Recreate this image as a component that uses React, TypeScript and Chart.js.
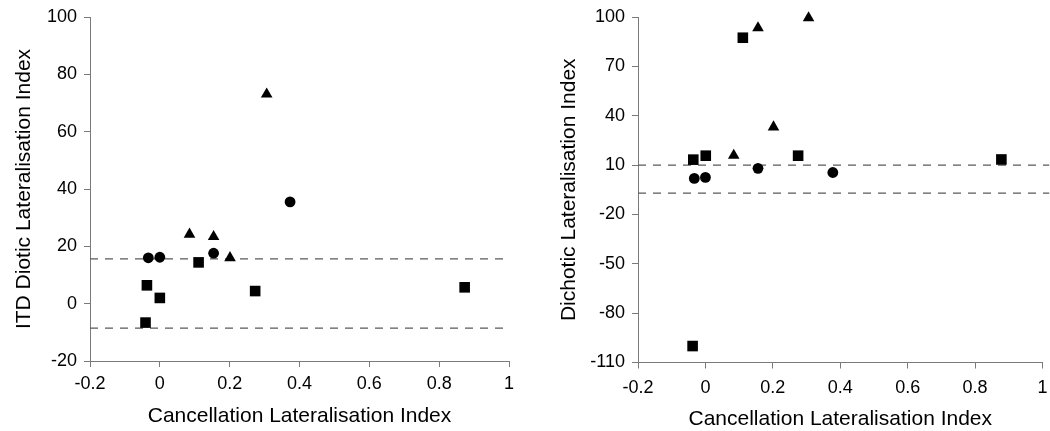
import React, { useEffect, useRef } from 'react';
import { Chart, registerables } from 'chart.js';

Chart.register(...registerables);

// ---------- shared axis data ----------
const xTickValues = [-0.2, 0, 0.2, 0.4, 0.6, 0.8, 1];
const xTickLabels = ['-0.2', '0', '0.2', '0.4', '0.6', '0.8', '1'];
const xTitle = 'Cancellation Lateralisation Index';

// ---------- left panel: ITD diotic ----------
const itdTitle = 'ITD Diotic Lateralisation Index';
const itdYTicks = [-20, 0, 20, 40, 60, 80, 100];
const itdSquareX = [-0.037, 0.0, -0.041, 0.111, 0.273, 0.873];
const itdSquareY = [6.4, 2.0, -6.6, 14.4, 4.4, 5.7];
const itdCircleX = [-0.033, 0.0, 0.154, 0.373];
const itdCircleY = [16.0, 16.2, 17.6, 35.5];
const itdTriangleX = [0.306, 0.085, 0.154, 0.201];
const itdTriangleY = [73.1, 24.2, 23.4, 16.0];
const itdLimits = [15.6, -8.5];

// ---------- right panel: dichotic ----------
const dichTitle = 'Dichotic Lateralisation Index';
const dichYTicks = [-110, -80, -50, -20, 10, 40, 70, 100];
const dichSquareX = [0.111, -0.036, 0.001, 0.275, 0.878, -0.038];
const dichSquareY = [87.4, 13.3, 15.7, 15.7, 13.4, -100];
const dichCircleX = [-0.033, 0.0, 0.156, 0.378];
const dichCircleY = [1.9, 2.5, 8.0, 5.5];
const dichTriangleX = [0.306, 0.156, 0.202, 0.084];
const dichTriangleY = [99.4, 93.3, 33.1, 15.9];
const dichLimits = [10, -7];

const FONT = "'Liberation Sans', Arial, Helvetica, sans-serif";
const AXIS_GREY = '#7a7a7a';

const toPts = (xs: number[], ys: number[]) => xs.map((x, i) => ({ x, y: ys[i] }));

type PanelCfg = {
  yTitle: string;
  yTicks: number[];
  sqX: number[]; sqY: number[];
  ciX: number[]; ciY: number[];
  trX: number[]; trY: number[];
  limits: number[];
  lineEnd: number;
  padLeft: number; padRight: number;
  yWidth: number; xHeight: number;
  xTickPad: number; xTitlePad: number;
};

function buildChart(canvas: HTMLCanvasElement, c: PanelCfg) {
  const marker = (pts: any, style: string, r: number) => ({
    data: pts,
    pointStyle: style,
    pointRadius: r,
    pointHoverRadius: r,
    backgroundColor: '#000',
    borderColor: '#000',
    borderWidth: 0,
    showLine: false,
    clip: false,
    order: 0,
  });
  const limitLine = (v: number) => ({
    data: [{ x: xTickValues[0], y: v }, { x: c.lineEnd, y: v }],
    showLine: true,
    borderColor: '#5a5a5a',
    borderWidth: 1.3,
    borderDash: [8, 7],
    pointRadius: 0,
    fill: false,
    clip: false,
    order: 1,
  });
  const yMin = c.yTicks[0];
  const yMax = c.yTicks[c.yTicks.length - 1];
  return new Chart(canvas, {
    type: 'scatter',
    data: {
      datasets: [
        marker(toPts(c.sqX, c.sqY), 'rect', 7.5),
        marker(toPts(c.ciX, c.ciY), 'circle', 5.4),
        marker(toPts(c.trX, c.trY), 'triangle', 6.7),
        ...c.limits.map(limitLine),
      ] as any,
    },
    options: {
      responsive: false,
      animation: false,
      events: [],
      layout: { padding: { top: 17, bottom: 0, left: c.padLeft, right: c.padRight } },
      plugins: { legend: { display: false }, tooltip: { enabled: false } },
      scales: {
        x: {
          type: 'linear',
          min: xTickValues[0],
          max: xTickValues[xTickValues.length - 1],
          afterBuildTicks: (s: any) => { s.ticks = xTickValues.map((v) => ({ value: v })); },
          afterFit: (s: any) => {
            s.height = c.xHeight;
            s.paddingLeft = 0;
            s.paddingRight = 0;
          },
          grid: { drawOnChartArea: false, tickLength: 6, color: AXIS_GREY },
          border: { display: true, color: AXIS_GREY, width: 1 },
          ticks: {
            padding: c.xTickPad,
            color: '#000',
            maxRotation: 0,
            autoSkip: false,
            font: { family: FONT, size: 18 },
            callback: (_v: any, i: number) => xTickLabels[i],
          },
          title: {
            display: true,
            text: xTitle,
            color: '#000',
            font: { family: FONT, size: 21 },
            padding: { top: 0, bottom: c.xTitlePad },
          },
        },
        y: {
          type: 'linear',
          min: yMin,
          max: yMax,
          afterBuildTicks: (s: any) => { s.ticks = c.yTicks.map((v) => ({ value: v })); },
          afterFit: (s: any) => {
            s.width = c.yWidth;
            s.paddingTop = 0;
            s.paddingBottom = 0;
          },
          grid: { drawOnChartArea: false, tickLength: 6, color: AXIS_GREY },
          border: { display: true, color: AXIS_GREY, width: 1 },
          ticks: {
            padding: 7,
            color: '#000',
            autoSkip: false,
            font: { family: FONT, size: 18 },
            callback: (_v: any, i: number) => String(c.yTicks[i]),
          },
          title: {
            display: true,
            text: c.yTitle,
            color: '#000',
            font: { family: FONT, size: 21 },
            padding: { top: 4, bottom: 0 },
          },
        },
      },
    } as any,
  });
}

function Panel({ cfg, left }: { cfg: PanelCfg; left: number }) {
  const ref = useRef<HTMLCanvasElement>(null);
  useEffect(() => {
    if (!ref.current) return;
    const ch = buildChart(ref.current, cfg);
    return () => ch.destroy();
  }, []);
  return (
    <canvas
      ref={ref}
      width={525}
      height={431}
      style={{ position: 'absolute', left, top: 0, width: 525, height: 431 }}
    />
  );
}

const leftCfg: PanelCfg = {
  yTitle: itdTitle, yTicks: itdYTicks,
  sqX: itdSquareX, sqY: itdSquareY,
  ciX: itdCircleX, ciY: itdCircleY,
  trX: itdTriangleX, trY: itdTriangleY,
  limits: itdLimits, lineEnd: 1.0,
  padLeft: 8, padRight: 16, yWidth: 82, xHeight: 70,
  xTickPad: 6, xTitlePad: 2,
};

const rightCfg: PanelCfg = {
  yTitle: dichTitle, yTicks: dichYTicks,
  sqX: dichSquareX, sqY: dichSquareY,
  ciX: dichCircleX, ciY: dichCircleY,
  trX: dichTriangleX, trY: dichTriangleY,
  limits: dichLimits, lineEnd: 1.02,
  padLeft: 28, padRight: 6, yWidth: 85, xHeight: 68.5,
  xTickPad: 9, xTitlePad: -1,
};

export default function App() {
  return (
    <div style={{ position: 'absolute', left: 0, top: 0, width: 1050, height: 431, background: '#fff', overflow: 'hidden' }}>
      <Panel cfg={leftCfg} left={0} />
      <Panel cfg={rightCfg} left={525} />
    </div>
  );
}
